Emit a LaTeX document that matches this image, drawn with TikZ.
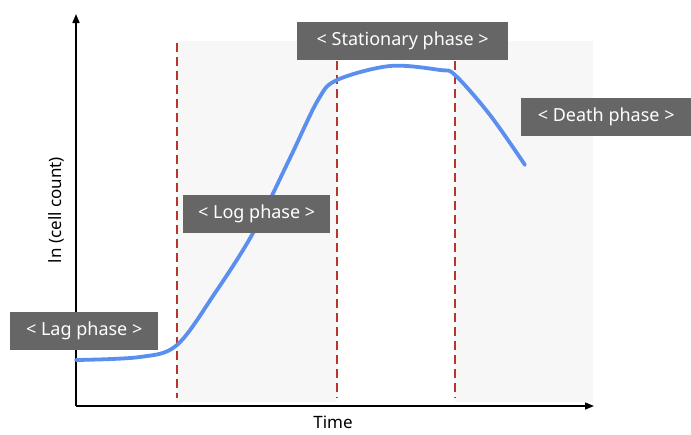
\documentclass[tikz,border=0pt]{standalone}
\usepackage{fontspec}
\setmainfont{Noto Sans}
\usetikzlibrary{arrows.meta}
\definecolor{bgray}{HTML}{F7F7F7}
\definecolor{lblgray}{HTML}{666666}
\definecolor{dred}{HTML}{B8352B}
\definecolor{cblue}{HTML}{5B8FEF}
\begin{document}
\begin{tikzpicture}[x=1pt,y=-1pt,
  phase/.style={fill=lblgray,text=white,font=\fontsize{18}{21}\selectfont,minimum height=38pt,inner xsep=9pt,anchor=north west},
  sep/.style={draw=dred,line width=1.4pt,dash pattern=on 9pt off 5pt},
  axis/.style={line width=1.6pt,-{Triangle[length=9pt,width=7pt]}},
  lbl/.style={font=\fontsize{17}{20}\selectfont,text=black,inner sep=0pt}]
\useasboundingbox (0,0) rectangle (691,434);
\fill[bgray] (177,41) rectangle (337,402);
\fill[bgray] (455,41) rectangle (593,402);
\draw[sep] (177,43) -- (177,398);
\draw[sep] (337,61) -- (337,398);
\draw[sep] (455,61) -- (455,398);
\coordinate (o) at (76,406);
\coordinate (ytip) at (76,14);
\coordinate (xtip) at (594,406);
\draw[axis] (o) -- (ytip);
\draw[axis] (o) -- (xtip);
\draw[cblue,line width=3.8pt,line cap=round] plot[smooth,tension=0.55] coordinates {(76,360) (140,357) (177,345) (215,293) (253,233) (290,158) (318,100) (337,80) (390,66) (440,70) (455,75) (490,115) (525,165)};
\node[phase,minimum width=148pt] (lag) at (10,312) {< Lag phase >};
\node[phase,minimum width=147pt] (log) at (183,195) {< Log phase >};
\node[phase,minimum width=211pt] (stat) at (297,22) {< Stationary phase >};
\node[phase,minimum width=170pt] (death) at (521,98) {< Death phase >};
\node[lbl,anchor=base] (time) at (333,428) {Time};
\node[lbl,rotate=90] (ylab) at (56,210) {ln (cell count)};
\end{tikzpicture}
\end{document}
